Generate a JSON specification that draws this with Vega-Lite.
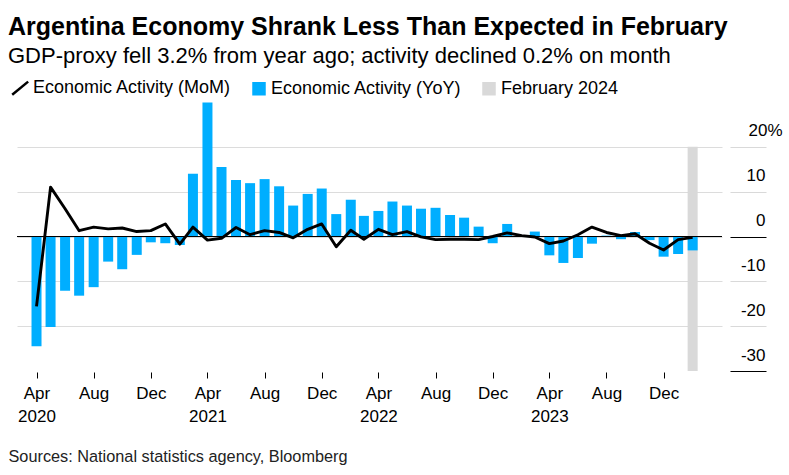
{
  "$schema": "https://vega.github.io/schema/vega-lite/v6.json",
  "width": 705,
  "height": 269,
  "autosize": {"type": "none"},
  "padding": {"left": 17, "top": 102, "right": 67, "bottom": 104},
  "background": "white",
  "config": {"font": "Liberation Sans", "view": {"stroke": null}},
  "title": {
    "text": "Argentina Economy Shrank Less Than Expected in February",
    "subtitle": "GDP-proxy fell 3.2% from year ago; activity declined 0.2% on month",
    "anchor": "start",
    "frame": "group",
    "dx": -9,
    "offset": 12,
    "fontSize": 25,
    "fontWeight": "bold",
    "color": "#000000",
    "subtitleFontSize": 22,
    "subtitleColor": "#000000",
    "subtitlePadding": 6,
    "font": "Liberation Sans",
    "subtitleFont": "Liberation Sans"
  },
  "datasets": {
    "econ": [
      {"date": "2020-04-01", "yoy": -24.5, "mom": -15.6},
      {"date": "2020-05-01", "yoy": -20.2, "mom": 11.0},
      {"date": "2020-06-01", "yoy": -12.1, "mom": 6.2},
      {"date": "2020-07-01", "yoy": -13.2, "mom": 1.3},
      {"date": "2020-08-01", "yoy": -11.3, "mom": 2.1},
      {"date": "2020-09-01", "yoy": -5.6, "mom": 1.7},
      {"date": "2020-10-01", "yoy": -7.3, "mom": 1.9},
      {"date": "2020-11-01", "yoy": -4.1, "mom": 1.1},
      {"date": "2020-12-01", "yoy": -1.3, "mom": 1.3},
      {"date": "2021-01-01", "yoy": -1.5, "mom": 2.8},
      {"date": "2021-02-01", "yoy": -1.9, "mom": -1.7},
      {"date": "2021-03-01", "yoy": 14.0, "mom": 2.1},
      {"date": "2021-04-01", "yoy": 29.9, "mom": -0.8},
      {"date": "2021-05-01", "yoy": 15.5, "mom": -0.4},
      {"date": "2021-06-01", "yoy": 12.6, "mom": 2.0},
      {"date": "2021-07-01", "yoy": 11.9, "mom": 0.4},
      {"date": "2021-08-01", "yoy": 12.8, "mom": 1.3},
      {"date": "2021-09-01", "yoy": 11.2, "mom": 0.9},
      {"date": "2021-10-01", "yoy": 6.9, "mom": -0.3},
      {"date": "2021-11-01", "yoy": 9.5, "mom": 1.6},
      {"date": "2021-12-01", "yoy": 10.7, "mom": 2.8},
      {"date": "2022-01-01", "yoy": 5.0, "mom": -2.3},
      {"date": "2022-02-01", "yoy": 8.2, "mom": 1.4},
      {"date": "2022-03-01", "yoy": 4.6, "mom": -0.6},
      {"date": "2022-04-01", "yoy": 5.7, "mom": 1.6},
      {"date": "2022-05-01", "yoy": 7.8, "mom": 0.4},
      {"date": "2022-06-01", "yoy": 6.9, "mom": 1.1},
      {"date": "2022-07-01", "yoy": 6.2, "mom": -0.1},
      {"date": "2022-08-01", "yoy": 6.4, "mom": -0.7},
      {"date": "2022-09-01", "yoy": 4.8, "mom": -0.6},
      {"date": "2022-10-01", "yoy": 4.2, "mom": -0.6},
      {"date": "2022-11-01", "yoy": 2.2, "mom": -0.7},
      {"date": "2022-12-01", "yoy": -1.5, "mom": 0.0},
      {"date": "2023-01-01", "yoy": 2.8, "mom": 0.8},
      {"date": "2023-02-01", "yoy": 0.3, "mom": 0.2},
      {"date": "2023-03-01", "yoy": 1.1, "mom": -0.1},
      {"date": "2023-04-01", "yoy": -4.2, "mom": -1.6},
      {"date": "2023-05-01", "yoy": -5.9, "mom": -1.0},
      {"date": "2023-06-01", "yoy": -4.8, "mom": 0.4},
      {"date": "2023-07-01", "yoy": -1.6, "mom": 2.1},
      {"date": "2023-08-01", "yoy": 0.2, "mom": 0.9},
      {"date": "2023-09-01", "yoy": -0.6, "mom": 0.2},
      {"date": "2023-10-01", "yoy": 1.0, "mom": 0.6},
      {"date": "2023-11-01", "yoy": -0.8, "mom": -1.5},
      {"date": "2023-12-01", "yoy": -4.5, "mom": -3.0},
      {"date": "2024-01-01", "yoy": -3.9, "mom": -0.7},
      {"date": "2024-02-01", "yoy": -3.1, "mom": -0.2}
    ],
    "band": [
      {"date": "2024-02-01", "top": 20, "bottom": -30}
    ]
  },
  "layer": [
    {
      "data": {"name": "band"},
      "mark": {"type": "bar", "width": 10},
      "encoding": {
        "x": {
          "field": "date",
          "type": "temporal",
          "scale": {
            "type": "utc",
            "domain": [
              {"year": 2020, "month": 3, "date": 1, "utc": true},
              {"year": 2024, "month": 3, "date": 24, "utc": true}
            ]
          },
          "axis": {
            "values": [
              {"year": 2020, "month": 4, "date": 1, "utc": true},
              {"year": 2020, "month": 8, "date": 1, "utc": true},
              {"year": 2020, "month": 12, "date": 1, "utc": true},
              {"year": 2021, "month": 4, "date": 1, "utc": true},
              {"year": 2021, "month": 8, "date": 1, "utc": true},
              {"year": 2021, "month": 12, "date": 1, "utc": true},
              {"year": 2022, "month": 4, "date": 1, "utc": true},
              {"year": 2022, "month": 8, "date": 1, "utc": true},
              {"year": 2022, "month": 12, "date": 1, "utc": true},
              {"year": 2023, "month": 4, "date": 1, "utc": true},
              {"year": 2023, "month": 8, "date": 1, "utc": true},
              {"year": 2023, "month": 12, "date": 1, "utc": true}
            ],
            "labelExpr": "utcmonth(datum.value) == 3 ? [utcFormat(datum.value, '%b'), utcFormat(datum.value, '%Y')] : utcFormat(datum.value, '%b')",
            "domain": false,
            "grid": false,
            "ticks": true,
            "tickSize": 6,
            "tickColor": "#000000",
            "tickWidth": 1,
            "offset": 1,
            "labelFontSize": 17,
            "labelColor": "#000000",
            "labelPadding": 7,
            "labelLineHeight": 23,
            "labelFlush": false,
            "labelOverlap": false,
            "labelBound": false,
            "title": "Sources: National statistics agency, Bloomberg",
            "titleAnchor": "start",
            "titleAlign": "left",
            "titleX": -9,
            "titleY": 89,
            "titleBaseline": "alphabetic",
            "titleFontSize": 16.3,
            "titleFontWeight": "normal",
            "titleColor": "#222222"
          }
        },
        "y": {
          "field": "top",
          "type": "quantitative",
          "scale": {"domain": [-30, 30], "nice": false, "zero": false},
          "axis": {
            "orient": "right",
            "values": [-30, -20, -10, 0, 10, 20],
            "labelExpr": "datum.value == 20 ? '20%' : '' + datum.value",
            "domain": false,
            "offset": 8,
            "tickSize": 36,
            "tickWidth": 1,
            "tickColor": {"condition": {"test": "datum.value == 0 || datum.value == -30", "value": "#000000"}, "value": "#d9d9d9"},
            "grid": true,
            "gridColor": {"condition": {"test": "datum.value == -30", "value": "transparent"}, "value": "#dcdcdc"},
            "gridWidth": 1,
            "labelAlign": {"condition": {"test": "datum.value == 20", "value": "center"}, "value": "right"},
            "labelBaseline": "alphabetic",
            "labelOffset": -11,
            "labelPadding": -1,
            "labelFontSize": 17,
            "labelColor": "#000000",
            "labelFlush": false,
            "labelOverlap": false,
            "labelBound": false,
            "title": null
          }
        },
        "y2": {"field": "bottom"},
        "color": {
          "datum": "February 2024",
          "scale": {
            "domain": ["Economic Activity (MoM)", "Economic Activity (YoY)", "February 2024"],
            "range": ["#000000", "#00aeff", "#d9d9d9"]
          },
          "legend": {
            "orient": "none",
            "legendX": -5,
            "legendY": -23,
            "direction": "horizontal",
            "title": null,
            "labelFontSize": 18,
            "labelColor": "#000000",
            "labelFont": "Liberation Sans",
            "labelLimit": 0,
            "symbolSize": 121,
            "symbolType": "square",
            "labelOffset": 3,
            "columnPadding": 16,
            "encoding": {
              "symbols": {
                "shape": {"condition": {"test": "datum.value === 'Economic Activity (MoM)'", "value": "M-1.6,1.2L1.3,-1.2"}, "value": "square"},
                "fill": {"condition": [{"test": "datum.value === 'Economic Activity (MoM)'", "value": "transparent"}, {"test": "datum.value === 'February 2024'", "value": "#d9d9d9"}], "value": "#00aeff"},
                "stroke": {"condition": {"test": "datum.value === 'Economic Activity (MoM)'", "value": "#000000"}, "value": "transparent"},
                "strokeWidth": {"value": 2.5}
              }
            }
          }
        }
      }
    },
    {
      "data": {"name": "econ"},
      "mark": {"type": "bar", "width": 10},
      "encoding": {
        "x": {"field": "date", "type": "temporal"},
        "y": {"field": "yoy", "type": "quantitative"},
        "color": {"datum": "Economic Activity (YoY)"}
      }
    },
    {
      "data": {"values": [{}]},
      "mark": {"type": "rule", "color": "#000000", "strokeWidth": 1.2},
      "encoding": {"y": {"datum": 0}}
    },
    {
      "data": {"name": "econ"},
      "mark": {"type": "line", "strokeWidth": 2.9, "strokeJoin": "round"},
      "encoding": {
        "x": {"field": "date", "type": "temporal"},
        "y": {"field": "mom", "type": "quantitative"},
        "color": {"datum": "Economic Activity (MoM)"}
      }
    }
  ]
}
